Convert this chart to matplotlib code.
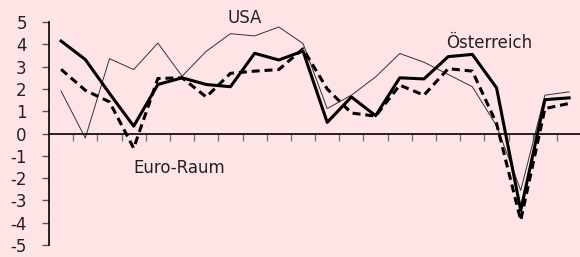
import numpy as np
import matplotlib
matplotlib.use("Agg")
import matplotlib.pyplot as plt

plt.rcParams['font.family'] = ['DejaVu Sans']
plt.rcParams['axes.unicode_minus'] = False

# Real GDP growth in %, 1990-2011
years = list(range(1990, 2012))
oesterreich = [4.15, 3.32, 1.8, 0.33, 2.2, 2.5, 2.2, 2.1, 3.6, 3.3, 3.7,
               0.5, 1.64, 0.8, 2.5, 2.45, 3.45, 3.55, 2.05, -3.45, 1.52, 1.6]
euro_raum = [2.88, 1.94, 1.42, -0.66, 2.47, 2.5, 1.64, 2.7, 2.8, 2.87, 3.8,
             2.0, 0.92, 0.78, 2.17, 1.72, 2.91, 2.8, 0.45, -3.9, 1.12, 1.35]
usa = [1.9, -0.2, 3.36, 2.87, 4.06, 2.57, 3.69, 4.48, 4.38, 4.78, 4.04,
       1.12, 1.72, 2.54, 3.59, 3.2, 2.65, 2.1, 0.35, -2.55, 1.72, 1.87]

y_ticks = list(range(-5, 6))

bg = "#ffe4e6"
fig = plt.figure(figsize=(5.8, 2.57), dpi=100, facecolor=bg)
ax = fig.add_axes([0.0845, 0.047, 0.9155, 0.867])
ax.set_facecolor(bg)

x = np.arange(len(years))
ax.plot(x, usa, color="#333333", lw=0.7, zorder=2)
ax.plot(x, euro_raum, color="black", lw=2.2, ls=(0, (2.6, 1.6)), zorder=3)
ax.plot(x, oesterreich, color="black", lw=2.2, zorder=4)

ax.set_xlim(-0.5, len(years) - 0.55)
ax.set_ylim(-5, 5)

# spines
for s in ("top", "right"):
    ax.spines[s].set_visible(False)
ax.spines["bottom"].set_position(("data", 0))
ax.spines["bottom"].set_linewidth(1.2)
ax.spines["left"].set_linewidth(1.2)

ax.set_xticks(x[:-1] + 0.5)
ax.set_xticklabels([])
ax.tick_params(axis="x", direction="out", length=5, width=1, color="#777777")
ax.set_yticks(y_ticks)
ax.set_yticklabels([str(t) for t in y_ticks])
ax.tick_params(axis="y", direction="out", length=5, width=1, color="#555555",
               labelsize=12, pad=11, labelcolor="#222222")

# series labels
ax.text(7.6, 5.2, "USA", fontsize=12, ha="center", va="center",
        color="#222222", clip_on=False)
ax.text(17.7, 4.05, "Österreich", fontsize=12, ha="center", va="center",
        color="#222222")
ax.text(4.9, -1.55, "Euro-Raum", fontsize=12, ha="center", va="center",
        color="#222222")

fig.savefig("out.png", dpi=100, facecolor=bg)
